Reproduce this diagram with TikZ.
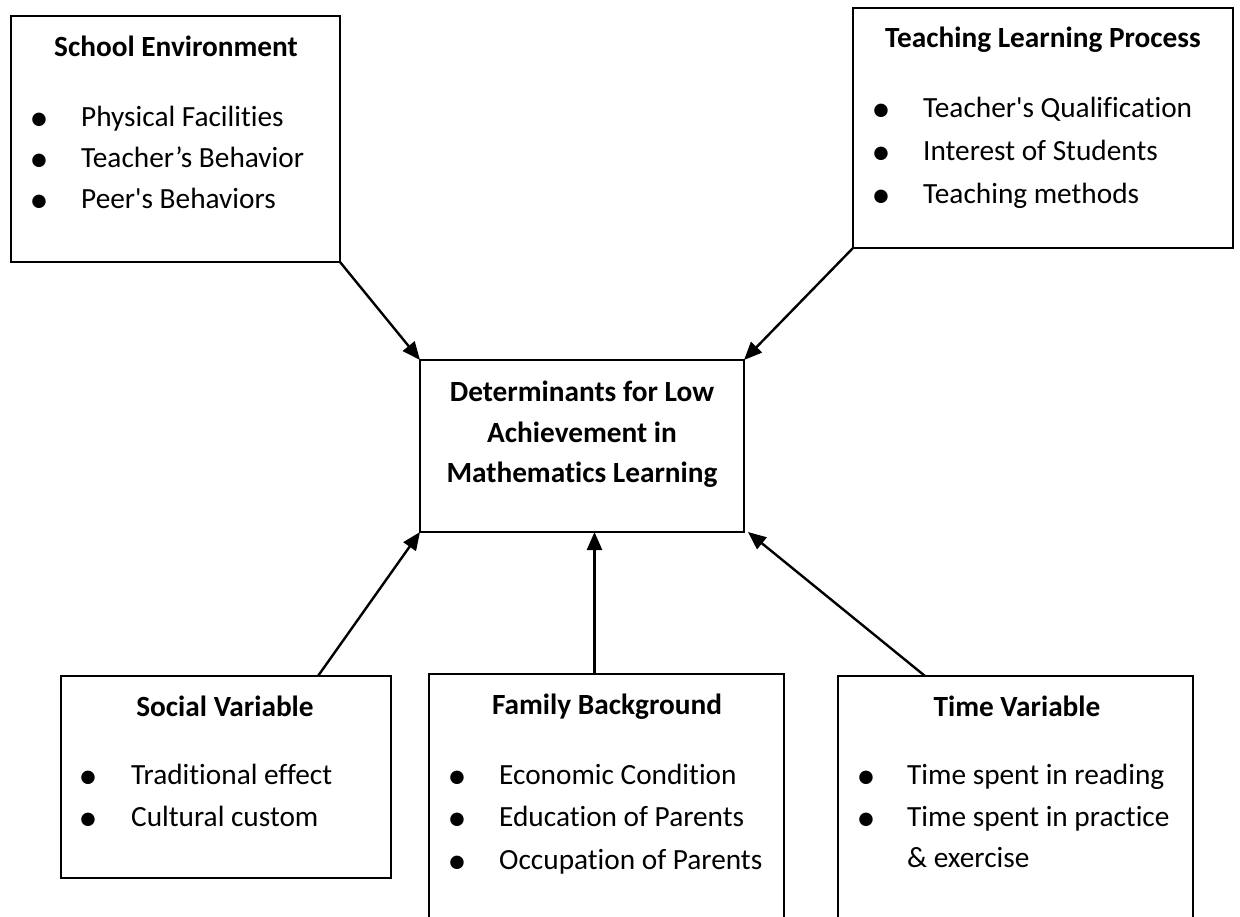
\documentclass[tikz,border=0pt]{standalone}
\usepackage{fontspec}
\setmainfont{Carlito}[Ligatures={TeX,NoCommon}]
\usetikzlibrary{arrows.meta,calc}
\begin{document}
\begin{tikzpicture}[x=1pt,y=-1pt,
  box/.style={draw, line width=1.6pt, outer sep=0pt, inner sep=0pt, anchor=north west},
  txt/.style={font=\fontsize{29.3}{41}\selectfont, inner sep=0pt, anchor=base west},
  head/.style={font=\fontsize{29.3}{41}\selectfont\bfseries, inner sep=0pt, anchor=base},
  dot/.style={font=\fontsize{38}{41}\selectfont, inner sep=0pt, anchor=base, yshift=-4pt},
  link/.style={line width=2.4pt, -{Triangle[length=18pt,width=15pt]}}]
\clip (0,0) rectangle (1240,916);

% frames
\node[box, minimum width=329pt, minimum height=246pt] (school) at (11,16) {};
\node[box, minimum width=380pt, minimum height=240pt] (teach) at (853,8) {};
\node[box, minimum width=324pt, minimum height=172pt] (ctr) at (420,360) {};
\node[box, minimum width=330pt, minimum height=202pt] (social) at (61,676) {};
\node[box, minimum width=355pt, minimum height=280pt] (family) at (429,674) {};
\node[box, minimum width=355pt, minimum height=280pt] (time) at (838,676) {};

% School Environment
\node[head] (se-t) at (176,56) {School Environment};
\node[dot] (se-b1) at (39,126) {•};
\node[dot] (se-b2) at (39,167) {•};
\node[dot] (se-b3) at (39,208) {•};
\node[txt] (se-1) at (81,126) {Physical Facilities};
\node[txt] (se-2) at (81,167) {Teacher’s Behavior};
\node[txt] (se-3) at (81,208) {Peer\textquotesingle s Behaviors};

% Teaching Learning Process
\node[head] (tl-t) at (1043,47) {Teaching Learning Process};
\node[dot] (tl-b1) at (881,117) {•};
\node[dot] (tl-b2) at (881,160) {•};
\node[dot] (tl-b3) at (881,203) {•};
\node[txt] (tl-1) at (923,117) {Teacher\textquotesingle s Qualification};
\node[txt] (tl-2) at (923,160) {Interest of Students};
\node[txt] (tl-3) at (923,203) {Teaching methods};

% central node
\node[head] (c-1) at (582,401) {Determinants for Low};
\node[head] (c-2) at (582,442) {Achievement in};
\node[head] (c-3) at (582,482) {Mathematics Learning};

% Social Variable
\node[head] (sv-t) at (225,716) {Social Variable};
\node[dot] (sv-b1) at (88,784) {•};
\node[dot] (sv-b2) at (88,826) {•};
\node[txt] (sv-1) at (131,784) {Traditional effect};
\node[txt] (sv-2) at (131,826) {Cultural custom};

% Family Background
\node[head] (fb-t) at (607,714) {Family Background};
\node[dot] (fb-b1) at (457,784) {•};
\node[dot] (fb-b2) at (457,826) {•};
\node[dot] (fb-b3) at (457,869) {•};
\node[txt] (fb-1) at (499,784) {Economic Condition};
\node[txt] (fb-2) at (499,826) {Education of Parents};
\node[txt] (fb-3) at (499,869) {Occupation of Parents};

% Time Variable
\node[head] (tv-t) at (1017,716) {Time Variable};
\node[dot] (tv-b1) at (866,784) {•};
\node[dot] (tv-b2) at (866,826) {•};
\node[txt] (tv-1) at (907,784) {Time spent in reading};
\node[txt] (tv-2) at (907,826) {Time spent in practice};
\node[txt] (tv-3) at (907,867) {\& exercise};

% connectors
\draw[link] (school.south east) -- (ctr.north west);
\draw[link] (teach.south west) -- (ctr.north east);
\draw[link] ($(social.north west)+(257,0)$) -- (ctr.south west);
\coordinate (fa) at ($(family.north)+(-12,0)$);
\draw[link] (fa) -- (fa |- ctr.south);
\draw[link] ($(time.north west)+(87,0)$) -- ($(ctr.south east)+(4,0)$);
\end{tikzpicture}
\end{document}
